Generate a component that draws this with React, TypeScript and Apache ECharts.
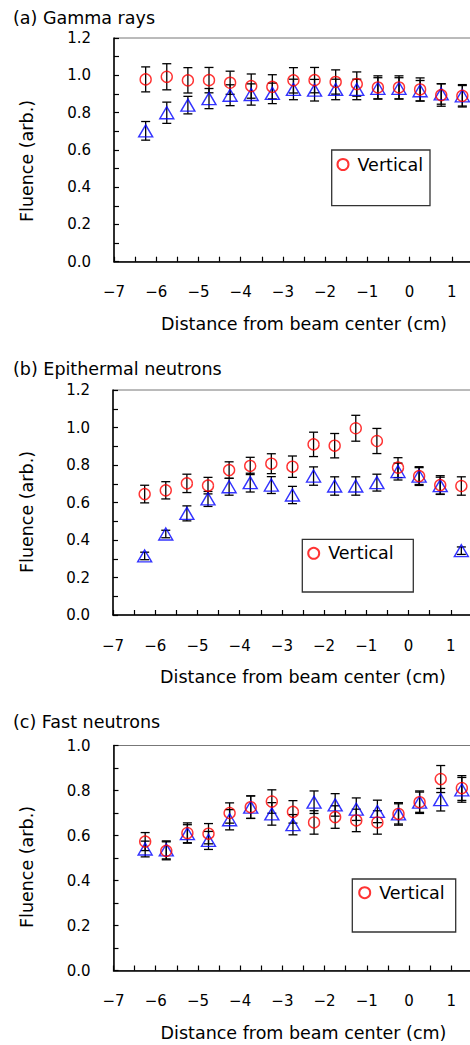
import React, { useEffect, useRef } from "react";
import * as echarts from "echarts";

const xPos = [-6.25, -5.75, -5.25, -4.75, -4.25, -3.75, -3.25, -2.75, -2.25, -1.75, -1.25, -0.75, -0.25, 0.25, 0.75, 1.25];

const gammaVertical = [0.978, 0.992, 0.973, 0.974, 0.96, 0.942, 0.938, 0.973, 0.974, 0.964, 0.953, 0.935, 0.935, 0.924, 0.894, 0.89];
const gammaVerticalErr = [0.067, 0.07, 0.068, 0.068, 0.062, 0.065, 0.065, 0.068, 0.068, 0.065, 0.065, 0.062, 0.062, 0.062, 0.06, 0.06];
const gammaHorizontal = [0.702, 0.799, 0.84, 0.875, 0.893, 0.897, 0.903, 0.924, 0.92, 0.924, 0.924, 0.93, 0.93, 0.917, 0.9, 0.89];
const gammaHorizontalErr = [0.05, 0.057, 0.047, 0.054, 0.056, 0.057, 0.055, 0.055, 0.058, 0.055, 0.055, 0.057, 0.057, 0.055, 0.055, 0.055];

const epiVertical = [0.645, 0.665, 0.702, 0.69, 0.773, 0.795, 0.807, 0.791, 0.91, 0.903, 0.996, 0.928, 0.786, 0.741, 0.693, 0.688];
const epiVerticalErr = [0.047, 0.046, 0.049, 0.044, 0.044, 0.046, 0.053, 0.057, 0.065, 0.065, 0.069, 0.067, 0.053, 0.05, 0.05, 0.049];
const epiHorizontal = [0.315, 0.432, 0.542, 0.619, 0.684, 0.706, 0.693, 0.64, 0.741, 0.688, 0.688, 0.706, 0.765, 0.741, 0.69, 0.343];
const epiHorizontalErr = [0.02, 0.02, 0.04, 0.04, 0.045, 0.05, 0.045, 0.046, 0.049, 0.049, 0.049, 0.045, 0.045, 0.045, 0.045, 0.02];

const fastVertical = [0.573, 0.532, 0.611, 0.608, 0.7, 0.726, 0.751, 0.705, 0.658, 0.682, 0.667, 0.658, 0.696, 0.748, 0.851, 0.811];
const fastVerticalErr = [0.04, 0.04, 0.045, 0.045, 0.045, 0.05, 0.052, 0.05, 0.052, 0.05, 0.05, 0.052, 0.05, 0.05, 0.06, 0.055];
const fastHorizontal = [0.54, 0.536, 0.608, 0.578, 0.67, 0.726, 0.696, 0.648, 0.748, 0.736, 0.717, 0.707, 0.696, 0.748, 0.759, 0.803];
const fastHorizontalErr = [0.035, 0.04, 0.04, 0.04, 0.045, 0.05, 0.05, 0.045, 0.05, 0.05, 0.05, 0.05, 0.045, 0.045, 0.05, 0.055];

const panelTitles = ["(a) Gamma rays", "(b) Epithermal neutrons", "(c) Fast neutrons"];
const xTitle = "Distance from beam center (cm)";
const yTitle = "Fluence (arb.)";
const yMaxes = [1.2, 1.2, 1.0];

const FONT = "DejaVu Sans";

const errRender = (params: any, api: any) => {
  const x = api.value(0);
  const lo = api.value(1);
  const hi = api.value(2);
  const p1 = api.coord([x, hi]);
  const p2 = api.coord([x, lo]);
  const cap = 4.5;
  const st = { stroke: "#000", lineWidth: 1.3 };
  return {
    type: "group",
    children: [
      { type: "line", shape: { x1: p1[0], y1: p1[1], x2: p2[0], y2: p2[1] }, style: st },
      { type: "line", shape: { x1: p1[0] - cap, y1: p1[1], x2: p1[0] + cap, y2: p1[1] }, style: st },
      { type: "line", shape: { x1: p2[0] - cap, y1: p2[1], x2: p2[0] + cap, y2: p2[1] }, style: st },
    ],
  };
};

export default function App() {
  const ref = useRef<HTMLDivElement>(null);
  useEffect(() => {
    if (!ref.current) return;
    const chart = echarts.init(ref.current, undefined, { renderer: "svg" });

    const grids = [
      { left: 114, top: 38, width: 380, height: 223.7 },
      { left: 113, top: 390, width: 380, height: 225 },
      { left: 113.5, top: 745.5, width: 380, height: 225 },
    ];
    const titleY = [17.5, 368.5, 721.5];
    const yNameY = [161, 512, 867];
    const legendBoxes = [
      { x: 331.7, y: 150, width: 98.3, height: 55.7, iconX: 346, iconY: 164.5 },
      { x: 302.3, y: 539.3, width: 111, height: 52.7, iconX: 316.7, iconY: 553.3 },
      { x: 352.3, y: 879, width: 103.4, height: 53, iconX: 367.7, iconY: 892.7 },
    ];

    const datasets = [
      [gammaVertical, gammaVerticalErr, gammaHorizontal, gammaHorizontalErr],
      [epiVertical, epiVerticalErr, epiHorizontal, epiHorizontalErr],
      [fastVertical, fastVerticalErr, fastHorizontal, fastHorizontalErr],
    ];

    const series: any[] = [];
    datasets.forEach((d, i) => {
      const [v, ve, h, he] = d;
      series.push({
        type: "custom",
        name: "Vertical error " + i,
        xAxisIndex: i,
        yAxisIndex: i,
        renderItem: errRender,
        encode: { x: 0, y: [1, 2] },
        data: xPos.map((x, k) => [x, v[k] - ve[k], v[k] + ve[k]]),
        z: 2,
      });
      series.push({
        type: "custom",
        name: "Horizontal error " + i,
        xAxisIndex: i,
        yAxisIndex: i,
        renderItem: errRender,
        encode: { x: 0, y: [1, 2] },
        data: xPos.map((x, k) => [x, h[k] - he[k], h[k] + he[k]]),
        z: 2,
      });
      series.push({
        type: "scatter",
        name: "Horizontal",
        xAxisIndex: i,
        yAxisIndex: i,
        symbol: "triangle",
        symbolSize: [14, 12],
        itemStyle: { color: "rgba(0,0,0,0)", borderColor: "#0000ff", borderWidth: 1.4 },
        data: xPos.map((x, k) => [x, h[k]]),
        z: 3,
      });
      series.push({
        type: "scatter",
        name: "Vertical",
        xAxisIndex: i,
        yAxisIndex: i,
        symbol: "circle",
        symbolSize: 11,
        itemStyle: { color: "rgba(0,0,0,0)", borderColor: "#ff0000", borderWidth: 1.4 },
        data: xPos.map((x, k) => [x, v[k]]),
        z: 4,
      });
    });

    const graphics: any[] = [];
    panelTitles.forEach((t, i) => {
      graphics.push({
        type: "text",
        x: 13,
        y: titleY[i],
        style: { text: t, font: `17.5px "${FONT}"`, fill: "#000", verticalAlign: "middle", align: "left" },
      });
      graphics.push({
        type: "text",
        x: 27,
        y: yNameY[i],
        rotation: Math.PI / 2,
        style: { text: yTitle, font: `17.5px "${FONT}"`, fill: "#000", verticalAlign: "middle", align: "center" },
      });
      const b = legendBoxes[i];
      graphics.push({
        type: "rect",
        shape: { x: b.x, y: b.y, width: b.width, height: b.height },
        style: { fill: "#fff", stroke: "#333", lineWidth: 1.3 },
        z: 5,
      });
    });

    chart.setOption({
      animation: false,
      backgroundColor: "#fff",
      textStyle: { fontFamily: FONT },
      grid: grids.map((g) => ({ ...g, show: true, borderColor: "#777", borderWidth: 1, backgroundColor: "transparent" })),
      legend: legendBoxes.map((b) => ({
        data: ["Vertical"],
        left: b.iconX - 9.5,
        top: b.iconY - 10,
        itemWidth: 19,
        itemHeight: 11,
        padding: 0,
        selectedMode: false,
        z: 10,
        textStyle: { fontSize: 17.5, fontFamily: FONT, color: "#000", lineHeight: 20, padding: [0, 0, 0, 0] },
      })),
      xAxis: grids.map((_, i) => ({
        type: "value",
        gridIndex: i,
        min: -7,
        max: 2,
        interval: 1,
        name: xTitle,
        nameLocation: "middle",
        nameGap: 53,
        nameTextStyle: { fontSize: 17.5, fontFamily: FONT, color: "#000" },
        axisLine: { show: true, onZero: false, lineStyle: { color: "#000", width: 1.5 } },
        axisTick: { show: true, inside: true, length: 5, lineStyle: { color: "#000", width: 1.2 } },
        minorTick: { show: true, splitNumber: 2, length: 5, lineStyle: { color: "#000", width: 1.2 } },
        splitLine: { show: false },
        axisLabel: {
          margin: 23,
          fontSize: 15,
          fontFamily: FONT,
          color: "#000",
          showMaxLabel: false,
          formatter: (val: number) => (val > 1.5 ? "" : val < 0 ? "\u2212" + Math.abs(val) : String(val)),
        },
      })),
      yAxis: grids.map((_, i) => ({
        type: "value",
        gridIndex: i,
        min: 0,
        max: yMaxes[i],
        interval: 0.2,
        axisLine: { show: true, onZero: false, lineStyle: { color: "#000", width: 1.5 } },
        axisTick: { show: true, inside: true, length: 5, lineStyle: { color: "#000", width: 1.2 } },
        minorTick: { show: true, splitNumber: 2, length: 5, lineStyle: { color: "#000", width: 1.2 } },
        splitLine: { show: false },
        axisLabel: {
          margin: 23,
          fontSize: 15,
          fontFamily: FONT,
          color: "#000",
          formatter: (val: number) => val.toFixed(1),
        },
      })),
      graphic: graphics,
      series,
    });
    return () => chart.dispose();
  }, []);

  return (
    <div style={{ position: "fixed", left: 0, top: 0, width: 470, height: 1045, overflow: "hidden", background: "#fff" }}>
      <div ref={ref} style={{ width: 520, height: 1045 }} />
    </div>
  );
}
